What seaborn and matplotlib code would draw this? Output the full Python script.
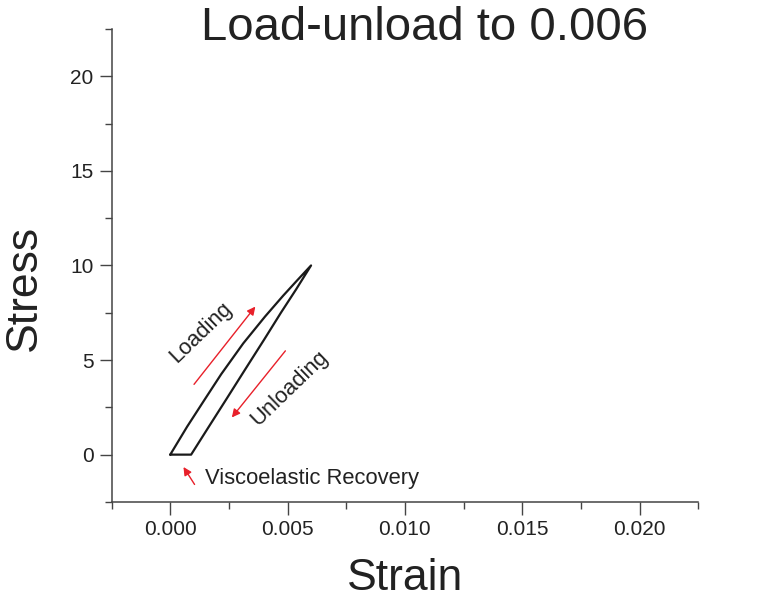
import pandas as pd
import seaborn as sns
import matplotlib.pyplot as plt

# dati: ciclo carico-scarico fino a 0.006
load_strain = [0.0, 0.00072, 0.00145, 0.00217, 0.00311, 0.00404, 0.00481, 0.0054, 0.006]
load_stress = [0.0, 1.48, 2.88, 4.25, 5.88, 7.3, 8.4, 9.2, 10.0]
unload_strain = [0.00536, 0.00472, 0.004, 0.00319, 0.00238, 0.00162, 0.00089]
unload_stress = [8.73, 7.51, 6.08, 4.5, 2.91, 1.43, 0.0]
recovery_strain = [0.0]
recovery_stress = [0.0]

x_ticks = [0.000, 0.005, 0.010, 0.015, 0.020]
x_tick_labels = ["0.000", "0.005", "0.010", "0.015", "0.020"]
y_ticks = [0, 5, 10, 15, 20]

strain = load_strain + unload_strain + recovery_strain
stress = load_stress + unload_stress + recovery_stress
df = pd.DataFrame({"Strain": strain, "Stress": stress, "step": range(len(strain))})

sns.set_style("ticks")
plt.rcParams["font.family"] = ["Liberation Sans", "DejaVu Sans"]

fig = plt.figure(figsize=(7.59, 6.04), dpi=100)
ax = fig.add_axes([0.147, 0.169, 0.773, 0.783])

sns.lineplot(data=df, x="Strain", y="Stress", sort=False, estimator=None,
             color="#1a1a1a", linewidth=1.6, ax=ax)

ax.set_xlim(-0.0025, 0.0225)
ax.set_ylim(-2.5, 22.5)
ax.set_xticks(x_ticks)
ax.set_xticklabels(x_tick_labels)
ax.set_yticks(y_ticks)
ax.set_xticks([-0.0025, 0.0025, 0.0075, 0.0125, 0.0175, 0.0225], minor=True)
ax.set_yticks([-2.5, 2.5, 7.5, 12.5, 17.5, 22.5], minor=True)
ax.tick_params(which="major", length=9, width=1, color="#444444", labelsize=15,
               labelcolor="#222222", pad=4)
ax.tick_params(which="minor", length=5, width=1, color="#444444")
for s in ["left", "bottom"]:
    ax.spines[s].set_color("#444444")
    ax.spines[s].set_linewidth(1.1)
sns.despine(ax=ax)

ax.set_xlabel("Strain", fontsize=32, color="#222222", labelpad=14)
ax.set_ylabel("Stress", fontsize=32, color="#222222", labelpad=18, y=0.452)
fig.text(425 / 759, 1 - 40 / 604, "Load-unload to 0.006", fontsize=34,
         color="#222222", ha="center", va="baseline")

red = "#e8202a"
arrow = dict(arrowstyle="-|>", color=red, lw=1.0, mutation_scale=12)
ax.annotate("", xy=(0.0037, 7.94), xytext=(0.00094, 3.6), arrowprops=arrow)
ax.annotate("", xy=(0.00255, 1.85), xytext=(0.00498, 5.6), arrowprops=arrow)
ax.annotate("", xy=(0.0005, -0.53), xytext=(0.0011, -1.7), arrowprops=arrow)

ax.text(0.0013, 6.44, "Loading", fontsize=15.8, color="#222222", rotation=44,
        rotation_mode="anchor", ha="center", va="center")
ax.text(0.00506, 3.53, "Unloading", fontsize=15.8, color="#222222", rotation=44,
        rotation_mode="anchor", ha="center", va="center")
ax.text(0.00149, -1.27, "Viscoelastic Recovery", fontsize=15.8, color="#222222",
        ha="left", va="center")

fig.savefig("out.png", dpi=100)
